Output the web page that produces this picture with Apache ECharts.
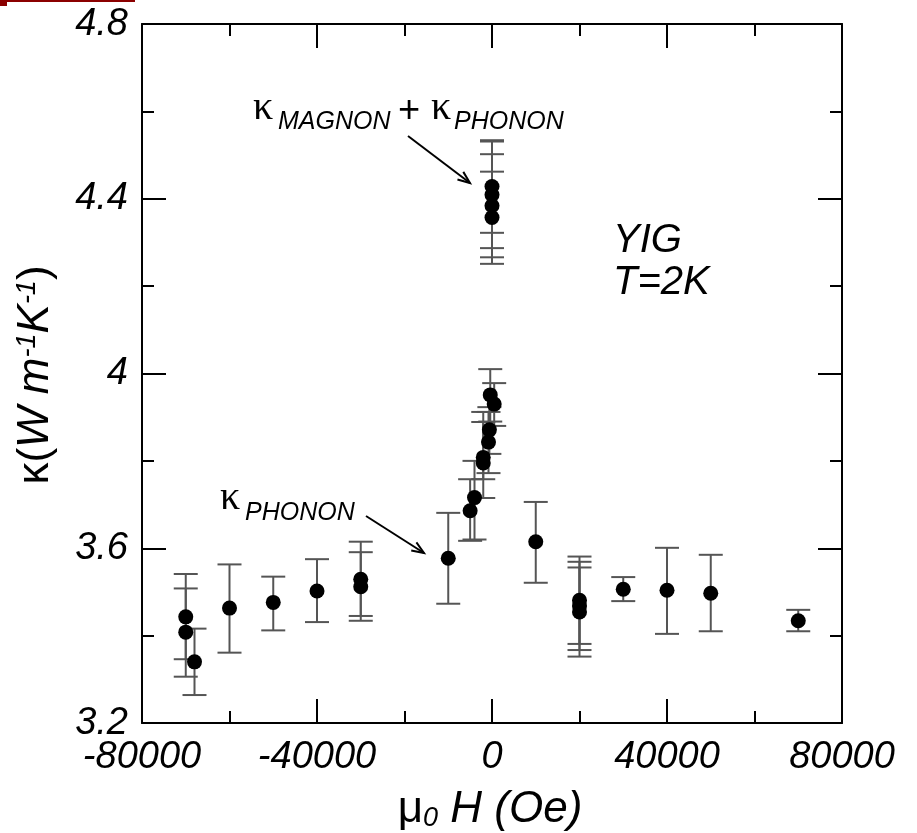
<!DOCTYPE html>
<html>
<head>
<meta charset="utf-8">
<script src="https://cdn.jsdelivr.net/npm/echarts@6/dist/echarts.min.js"></script>
<style>
html,body{margin:0;padding:0;background:#fff;}
#chart{width:917px;height:833px;}
</style>
</head>
<body>
<div id="chart"></div>
<script>
// ---- data ----
const fieldOe = [-70000,-70000,-68000,-60000,-50000,-40000,-30000,-30000,-10000,-5000,-4000,-2000,-2000,-800,-600,-400,500,0,0,0,0,10000,20000,20000,20000,30000,40000,50000,70000];
const kappa   = [3.443,3.408,3.340,3.463,3.476,3.502,3.529,3.512,3.577,3.686,3.716,3.808,3.795,3.843,3.871,3.951,3.930,4.428,4.409,4.384,4.357,3.615,3.481,3.468,3.454,3.506,3.504,3.497,3.434];
const kappaLow  = [3.346,3.306,3.264,3.361,3.412,3.431,3.445,3.434,3.473,3.617,3.620,3.758,3.715,3.772,3.816,3.890,3.880,4.322,4.287,4.266,4.251,3.521,3.381,3.367,3.352,3.479,3.404,3.410,3.410];
const kappaHigh = [3.541,3.508,3.416,3.563,3.535,3.575,3.615,3.591,3.681,3.758,3.800,3.889,3.912,3.912,3.923,4.010,3.978,4.534,4.531,4.502,4.462,3.706,3.581,3.569,3.556,3.534,3.601,3.585,3.459];
const xTicks = {min:-80000, max:80000, interval:40000};
const yTicks = {min:3.2, max:4.8, interval:0.4};

const FONT = "'Liberation Sans', Arial, sans-serif";
const SERIF = "'Liberation Serif', 'DejaVu Serif', serif";

const chart = echarts.init(document.getElementById('chart'), null, {renderer:'canvas'});

const points = fieldOe.map((x,i)=>[x,kappa[i]]);
const errs = fieldOe.map((x,i)=>[x,kappaLow[i],kappaHigh[i]]);

const axisCommon = {
  axisLine:{show:true, onZero:false, lineStyle:{color:'#000', width:2}},
  axisTick:{show:true, inside:true, length:24, lineStyle:{color:'#000', width:2}},
  minorTick:{show:true, splitNumber:2, length:12, lineStyle:{color:'#000', width:2}},
  splitLine:{show:false}
};

function arrow(x1,y1,x2,y2){
  const ang = Math.atan2(y2-y1,x2-x1);
  const L = 13, a = 0.38;
  const p1 = [x2 - L*Math.cos(ang-a), y2 - L*Math.sin(ang-a)];
  const p2 = [x2 - L*Math.cos(ang+a), y2 - L*Math.sin(ang+a)];
  return [
    {type:'line', shape:{x1:x1,y1:y1,x2:x2,y2:y2}, style:{stroke:'#000', lineWidth:2}},
    {type:'polyline', shape:{points:[p1,[x2,y2],p2]}, style:{stroke:'#000', lineWidth:2, fill:null}}
  ];
}

const f = (sz, it, fam) => (it?'italic ':'') + sz + 'px ' + (fam||FONT);

const txt = (text, x, y, size, opts={}) => ({
  type:'text', x:x, y:y,
  style:{text:text, fill:'#000', font:f(size, opts.italic, opts.family), align:opts.align||'left', verticalAlign:'middle'}
});

chart.setOption({
  animation:false,
  backgroundColor:'#fff',
  grid:{left:142, right:75, top:24, bottom:110, containLabel:false},
  xAxis:[
    Object.assign({type:'value', min:xTicks.min, max:xTicks.max, interval:xTicks.interval, position:'bottom',
      axisLabel:{show:true, margin:15, fontSize:38, fontStyle:'italic', color:'#000', fontFamily:FONT,
        formatter:v=>String(v)}}, axisCommon),
    Object.assign({type:'value', min:xTicks.min, max:xTicks.max, interval:xTicks.interval, position:'top',
      axisLabel:{show:false}}, axisCommon)
  ],
  yAxis:[
    Object.assign({type:'value', min:yTicks.min, max:yTicks.max, interval:yTicks.interval, position:'left',
      axisLabel:{show:true, margin:14, fontSize:38, fontStyle:'italic', color:'#000', fontFamily:FONT,
        formatter:v=>String(+v.toFixed(1))}}, axisCommon),
    Object.assign({type:'value', min:yTicks.min, max:yTicks.max, interval:yTicks.interval, position:'right',
      axisLabel:{show:false}}, axisCommon)
  ],
  series:[
    {
      type:'custom', xAxisIndex:0, yAxisIndex:0, data:errs, z:2,
      renderItem:function(params, api){
        const x = api.value(0), lo = api.value(1), hi = api.value(2);
        const a = api.coord([x,lo]), b = api.coord([x,hi]);
        const hw = 12;
        const st = {stroke:'#555', lineWidth:2};
        return {type:'group', children:[
          {type:'line', shape:{x1:a[0],y1:a[1],x2:b[0],y2:b[1]}, style:st},
          {type:'line', shape:{x1:a[0]-hw,y1:a[1],x2:a[0]+hw,y2:a[1]}, style:st},
          {type:'line', shape:{x1:b[0]-hw,y1:b[1],x2:b[0]+hw,y2:b[1]}, style:st}
        ]};
      }
    },
    {
      type:'scatter', xAxisIndex:0, yAxisIndex:0, data:points, symbol:'circle', symbolSize:15, z:3,
      itemStyle:{color:'#000', opacity:1}
    }
  ],
  graphic:[
    {type:'rect', shape:{x:0,y:0,width:135,height:2}, style:{fill:'#8b0000'}},
    {type:'rect', shape:{x:0,y:0,width:7,height:6}, style:{fill:'#8b0000'}},
    // y-axis title
    {type:'text', x:36, y:375, rotation:Math.PI/2,
      style:{text:'{n|κ(}{i|W m}{s|-1}{i|K}{s|-1}{n|)}', align:'center', verticalAlign:'middle', fill:'#000',
        rich:{
          n:{fontSize:44, fontFamily:FONT, fill:'#000'},
          i:{fontSize:44, fontStyle:'italic', fontFamily:FONT, fill:'#000'},
          s:{fontSize:27, fontStyle:'italic', fontFamily:FONT, fill:'#000', verticalAlign:'top', padding:[0,0,18,0]}
        }}},
    // x-axis title
    {type:'text', x:490, y:810,
      style:{text:'{n|μ}{s|0}{i| H (Oe)}', align:'center', verticalAlign:'middle', fill:'#000',
        rich:{
          n:{fontSize:44, fontFamily:FONT, fill:'#000'},
          i:{fontSize:44, fontStyle:'italic', fontFamily:FONT, fill:'#000'},
          s:{fontSize:27, fontStyle:'italic', fontFamily:FONT, fill:'#000', verticalAlign:'bottom', padding:[16,0,0,0]}
        }}},
    txt('YIG', 613, 241, 40, {italic:true}),
    txt('T=2K', 613, 283, 40, {italic:true}),
    // annotation 1
    txt('κ', 253, 108, 40, {family:SERIF}),
    txt('MAGNON', 278, 122, 25, {italic:true}),
    txt('+', 398, 112, 38, {}),
    txt('κ', 431, 108, 40, {family:SERIF}),
    txt('PHONON', 454, 122, 25, {italic:true}),
    // annotation 2
    txt('κ', 220, 498, 40, {family:SERIF}),
    txt('PHONON', 245, 513, 25, {italic:true})
  ].concat(arrow(408,136,470,183)).concat(arrow(366,516,424,553))
});
</script>
</body>
</html>
